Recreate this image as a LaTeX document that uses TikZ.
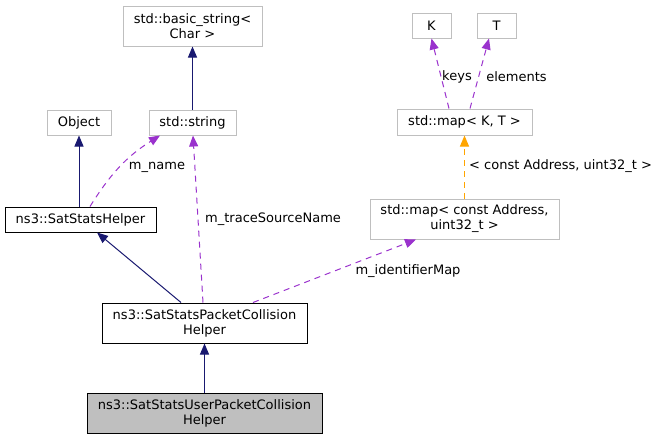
\documentclass[tikz,border=0pt]{standalone}
\usepackage{fontspec}
\setmainfont{DejaVu Sans}
\usetikzlibrary{arrows.meta}
\definecolor{navy}{HTML}{191970}
\definecolor{purp}{HTML}{9A32CD}
\definecolor{orng}{HTML}{FFA500}
\definecolor{boxgray}{HTML}{BFBFBF}
\tikzset{
  cls/.style={draw=boxgray, line width=1pt, fill=white, inner sep=0pt, align=center, font=\fontsize{13}{15}\selectfont, text=black},
  doc/.style={cls, draw=black},
  focus/.style={cls, draw=black, fill=boxgray},
  inh/.style={navy, line width=1pt, -{Triangle[length=11pt,width=9pt]}},
  use/.style={purp, line width=1pt, dash pattern=on 6pt off 5pt, -{Triangle[length=11pt,width=9pt]}},
  tmpl/.style={orng, line width=1pt, dash pattern=on 6pt off 5pt, -{Triangle[length=11pt,width=9pt]}},
  lbl/.style={font=\fontsize{13}{15}\selectfont, text=black, inner sep=0pt}
}
\begin{document}
\begin{tikzpicture}[x=1pt, y=-1pt]
\useasboundingbox (0,0) rectangle (657,440);
% nodes
\node[cls, minimum width=139pt, minimum height=40pt] (bs) at (192.5,26) {std::basic\_string<\\Char >};
\node[cls, minimum width=64pt, minimum height=25pt] (obj) at (79,122.5) {Object};
\node[cls, minimum width=87pt, minimum height=25pt] (str) at (192.5,122.5) {std::string};
\node[doc, minimum width=151pt, minimum height=25pt] (ssh) at (80.5,219.5) {ns3::SatStatsHelper};
\node[doc, minimum width=205pt, minimum height=40pt] (pc) at (204.5,323) {ns3::SatStatsPacketCollision\\Helper};
\node[focus, minimum width=235pt, minimum height=40pt] (upc) at (204.5,413) {ns3::SatStatsUserPacketCollision\\Helper};
\node[cls, minimum width=39pt, minimum height=25pt] (K) at (431.5,25.5) {K};
\node[cls, minimum width=39pt, minimum height=25pt] (T) at (496.5,25.5) {T};
\node[cls, minimum width=135pt, minimum height=26pt] (mkt) at (464.5,122) {std::map< K, T >};
\node[cls, minimum width=189pt, minimum height=40pt] (mca) at (464.5,219) {std::map< const Address,\\uint32\_t >};
% edges
\draw[inh] (str.north) -- (bs.south);
\draw[inh] (obj.south |- ssh.north) -- (obj.south);
\draw[inh] ([xshift=-23.5pt]pc.north) -- ([xshift=16.5pt]ssh.south);
\draw[inh] (pc.south |- upc.north) -- (pc.south);
\draw[use] ([xshift=9.5pt]ssh.north) to[out=58,in=-148] ([xshift=-32.5pt]str.south);
\draw[use] ([xshift=-1.5pt]pc.north) -- ([xshift=0.5pt]str.south);
\draw[use] ([xshift=48.5pt]pc.north) -- ([xshift=-48.5pt]mca.south);
\draw[tmpl] (mca.north) -- (mkt.south);
\draw[use] ([xshift=-15.5pt]mkt.north) -- (K.south);
\draw[use] ([xshift=5.5pt]mkt.north) -- ([xshift=-7.5pt]T.south);
% labels
\node[lbl] (lname) at (157,167) {m\_name};
\node[lbl, anchor=west] (ltrace) at (205,219) {m\_traceSourceName};
\node[lbl] (lident) at (408,271) {m\_identifierMap};
\node[lbl, anchor=west] (ltmpl) at (469,166) {< const Address, uint32\_t >};
\node[lbl] (lkeys) at (457,77) {keys};
\node[lbl] (lelem) at (516.5,77) {elements};
\end{tikzpicture}
\end{document}
